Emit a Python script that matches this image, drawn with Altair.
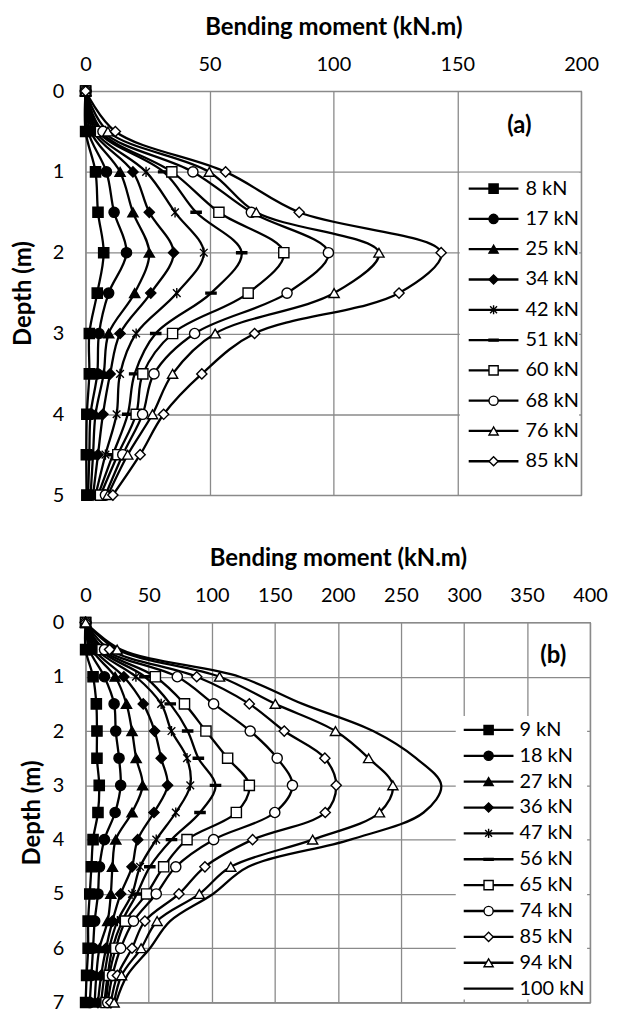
import altair as alt
import pandas as pd

FONT = "Lato"
GRID = "#8a8a8a"

# ---------------- panel (a) ----------------
depth_a = [0, 0.5, 1, 1.5, 2, 2.5, 3, 3.5, 4, 4.5, 5]
labels_a = ["8 kN", "17 kN", "25 kN", "34 kN", "42 kN", "51 kN", "60 kN", "68 kN", "76 kN", "85 kN"]
a_8 = [0, 0, 4.0, 5.0, 7.3, 4.7, 1.5, 1.5, 0.5, 0.3, 0.5]
a_17 = [0, 1, 8.4, 11.5, 16.5, 9.3, 5.4, 4.7, 2, 1.5, 1]
a_25 = [0, 2, 13.9, 19.1, 25.7, 19.8, 9.3, 7.3, 4, 3, 2]
a_34 = [0, 3, 19.1, 25.7, 35.5, 26.3, 13.9, 9.9, 7, 5, 3]
a_42 = [0, 4, 24.4, 36.1, 47.7, 36.8, 20.4, 13.9, 12.5, 8, 4]
a_51 = [0, 5, 31.5, 44.6, 63.0, 50.6, 28.3, 19.8, 17, 11, 5]
a_60 = [0, 6, 34.8, 53.8, 80.0, 65.6, 35.1, 23.1, 20.4, 13, 6]
a_68 = [0, 7, 43.3, 66.9, 98.0, 81.3, 44.0, 27.6, 23, 15, 8]
a_76 = [0, 9, 49.9, 68.9, 118.4, 100.3, 52.3, 35.1, 27, 17, 9]
a_85 = [0, 12, 56.5, 86.2, 143.5, 126.5, 68.2, 46.9, 31.5, 22, 11]

# ---------------- panel (b) ----------------
depth_b = [0, 0.5, 1, 1.5, 2, 2.5, 3, 3.5, 4, 4.5, 5, 5.5, 6, 6.5, 7]
labels_b = ["9 kN", "18 kN", "27 kN", "36 kN", "47 kN", "56 kN", "65 kN", "74 kN", "85 kN", "94 kN", "100 kN"]
b_9 = [0, 0, 5.9, 8.5, 9, 9, 10.8, 9.8, 5.9, 4.6, 3.3, 2, 2, 0.8, 0]
b_18 = [0, 3, 14.9, 22.6, 23.9, 26.5, 27.8, 23.4, 14.9, 11, 9.8, 7.2, 5.9, 4.6, 3.3]
b_27 = [0, 5, 23.4, 32.4, 36.8, 40.1, 45.2, 36.8, 23.9, 21.3, 20, 17.5, 11, 8.5, 7.2]
b_36 = [0, 7, 30.3, 45.7, 54.7, 59.9, 65, 54.2, 41.3, 36.8, 27.8, 21.3, 16.2, 12.3, 9.8]
b_47 = [0, 9, 39.9, 59.9, 68.1, 80.4, 83, 71.5, 56, 43.2, 36.8, 25.2, 18.7, 14.9, 12.3]
b_56 = [0, 11, 47, 67.1, 80.9, 89.4, 103, 90.7, 68.1, 50.9, 40.6, 29, 21.3, 17.5, 14.9]
b_65 = [0, 13, 55.3, 78.4, 95.4, 112.6, 129.8, 119.5, 80.4, 61.9, 48.3, 31.6, 23.9, 18.7, 16.2]
b_74 = [0, 15, 72.7, 101.5, 130.5, 151.9, 164, 150, 101.5, 71.5, 56, 38, 27.8, 21.3, 17.5]
b_85 = [0, 19, 88.1, 129.8, 157.5, 189.7, 198.7, 190, 132.4, 94.6, 74, 47, 36.8, 25.2, 20]
b_94 = [0, 25, 106.2, 150.4, 198.1, 224.4, 243.6, 233, 180, 115.1, 90.2, 56.7, 44, 28.5, 22.6]
b_100 = [0, 28, 122, 172, 228, 262, 282, 268, 210, 129, 101, 67, 51, 33, 24]

# marker styles (plot and legend)
SHAPES = [
    "square", "circle", "triangle-up", "diamond",
    "M-0.75,-0.75L0.75,0.75M-0.75,0.75L0.75,-0.75M0,-1V1",
    "M-1,-0.2H1V0.2H-1Z",
    "square", "circle", "triangle-up", "diamond",
]
FILLS = ["black"] * 6 + ["white"] * 4


def panel(labels, series, depths, xmax, ymax, w, h, ytp, box, leg_range,
          line_x, mark_x, text_x, tag, tag_xy):
    rows = []
    for lab, vals in zip(labels, series):
        for d, v in zip(depths, vals):
            rows.append({"series": lab, "depth": d, "moment": v})
    df = pd.DataFrame(rows)
    marked = labels[:10]
    shape_scale = alt.Scale(domain=marked, range=SHAPES)
    fill_scale = alt.Scale(domain=marked, range=FILLS)

    x = alt.X("moment:Q",
              scale=alt.Scale(domain=[0, xmax], nice=False),
              axis=alt.Axis(orient="top", values=list(range(0, xmax + 1, 50)),
                            title="Bending moment (kN.m)", titleFontWeight="bold",
                            titleFontSize=24,
                            grid=True, gridColor=GRID, gridWidth=1.3,
                            ticks=False, tickSize=0, domain=False,
                            labelFlush=False, labelOverlap=False,
                            labelPadding=17, titlePadding=15))
    y = alt.Y("depth:Q",
              scale=alt.Scale(domain=[0, ymax], reverse=True, nice=False),
              axis=alt.Axis(values=list(range(0, ymax + 1)), title="Depth (m)",
                            titleFontWeight="bold", titleFontSize=24,
                            grid=True, gridColor=GRID,
                            gridWidth=1.3, ticks=False, tickSize=0, domain=False,
                            labelFlush=False, labelOverlap=False,
                            labelPadding=22, titlePadding=ytp))

    base = alt.Chart(df)
    lines = base.mark_line(color="black", strokeWidth=2.3,
                           interpolate="catmull-rom").encode(
        x=x, y=y, detail="series:N", order="depth:Q")
    pts = base.transform_filter(
        alt.FieldOneOfPredicate(field="series", oneOf=marked)
    ).mark_point(color="black", stroke="black", strokeWidth=1.4, size=105,
                 opacity=1, fillOpacity=1).encode(
        x=x, y=y,
        shape=alt.Shape("series:N", scale=shape_scale, legend=None),
        fill=alt.Fill("series:N", scale=fill_scale, legend=None))
    main = alt.layer(lines, pts)

    ldf = pd.DataFrame({"series": labels})
    ly = alt.Y("series:N", sort=labels,
               scale=alt.Scale(type="point", domain=labels, range=leg_range, padding=0),
               axis=None)
    bg = alt.Chart(pd.DataFrame({"k": [0]})).mark_rect(fill="white").encode(
        x=alt.value(box[0]), x2=alt.value(box[1]),
        y=alt.value(box[2]), y2=alt.value(box[3]))
    lrule = alt.Chart(ldf).mark_rule(color="black", strokeWidth=2.3).encode(
        x=alt.value(line_x[0]), x2=alt.value(line_x[1]), y=ly)
    lpts = alt.Chart(ldf).transform_filter(
        alt.FieldOneOfPredicate(field="series", oneOf=marked)
    ).mark_point(color="black", stroke="black", strokeWidth=1.4, size=85,
                 opacity=1, fillOpacity=1).encode(
        x=alt.value(mark_x), y=ly,
        shape=alt.Shape("series:N", scale=shape_scale, legend=None),
        fill=alt.Fill("series:N", scale=fill_scale, legend=None))
    ltext = alt.Chart(ldf).mark_text(align="left", baseline="middle", font=FONT,
                                     fontSize=20, color="black").encode(
        x=alt.value(text_x), y=ly, text="series:N")
    tagc = alt.Chart(pd.DataFrame({"tag": [tag]})).mark_text(
        font=FONT, fontSize=24, fontWeight="bold", color="black").encode(
        text="tag:N", x=alt.value(tag_xy[0]), y=alt.value(tag_xy[1]))
    legend = alt.layer(bg, lrule, lpts, ltext, tagc)

    return alt.layer(main, legend).resolve_scale(y="independent").properties(
        width=w, height=h)


chart_a = panel(labels_a, [a_8, a_17, a_25, a_34, a_42, a_51, a_60, a_68, a_76, a_85],
                depth_a, 200, 5, 498, 406, 17,
                (376, 496, 82, 388), [98, 372], (385, 435), 410, 442,
                "(a)", (436, 35))
chart_b = panel(labels_b, [b_9, b_18, b_27, b_36, b_47, b_56, b_65, b_74, b_85, b_94, b_100],
                depth_b, 400, 7, 507, 382, 8,
                (372, 504, 94, 379), [108, 368], (380, 430), 405, 436,
                "(b)", (470, 34))

chart = alt.vconcat(chart_a, chart_b, spacing=40).properties(
    padding={"left": 2, "top": 4, "right": 0, "bottom": 0}
).configure_view(
    stroke=GRID, strokeWidth=1.3
).configure_axis(
    labelFont=FONT, titleFont=FONT, labelFontSize=20, titleFontSize=24,
    labelColor="black", titleColor="black"
)

chart.save("out.html", embed_options={"renderer": "svg", "actions": False})
